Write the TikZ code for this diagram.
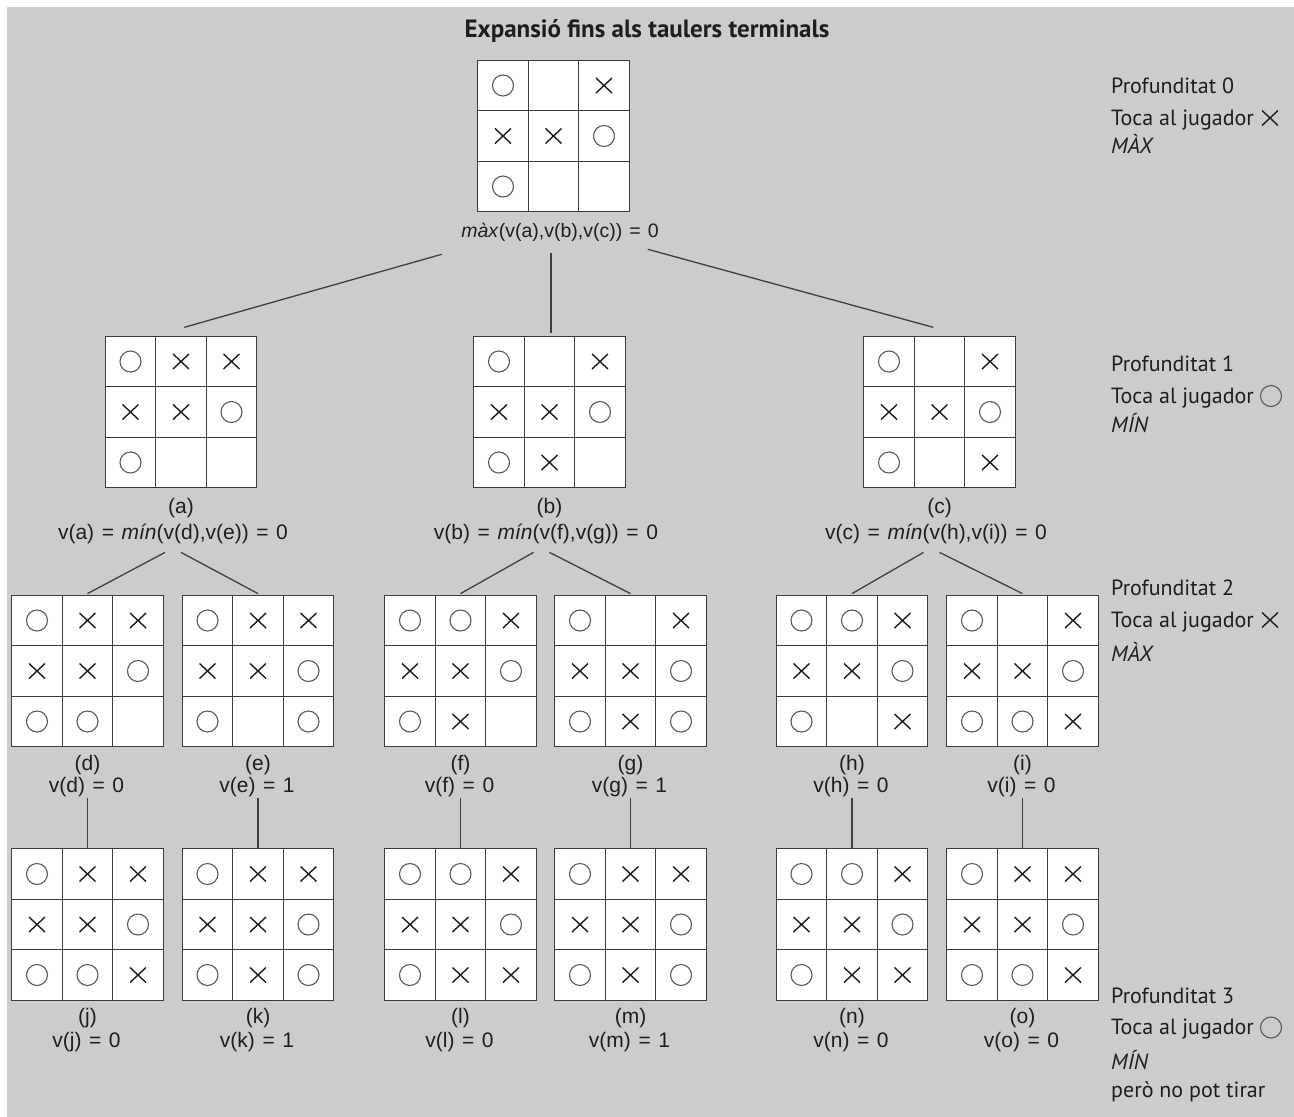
\documentclass[tikz,border=0pt]{standalone}
\usepackage{fontspec}
\setmainfont{Liberation Sans}[WordSpace=1.3]
\newfontfamily\labelfont{PT Sans}
\usetikzlibrary{calc}

\definecolor{panel}{HTML}{CCCCCC}
\definecolor{ink}{HTML}{1E1E1E}
\definecolor{gridink}{HTML}{3C3C3C}
\definecolor{ringink}{HTML}{5A5A5A}

\tikzset{
  board/.style={draw=gridink, line width=1.3pt, fill=white, minimum size=151.5pt, inner sep=0pt},
  cellline/.style={draw=gridink, line width=1.2pt},
  link/.style={draw=ink!85, line width=1.3pt},
  caption/.style={anchor=base, inner sep=0pt, text=ink, font=\fontsize{21}{25}\selectfont},
  sidetext/.style={anchor=base west, inner sep=0pt, text=ink, font=\labelfont\fontsize{22}{26}\selectfont},
  pics/crossmark/.style={code={\draw[ink, line width=1.4pt] (-8,-7.5) -- (8,7.5) (-8,7.5) -- (8,-7.5);}},
  pics/ringmark/.style={code={\draw[ringink, line width=1.1pt] (0,0) circle[radius=10.5pt];}},
}

% #1 name, #2 centre x, #3 centre y (downwards), #4 cells with a cross, #5 cells with a ring
\newcommand\tttboard[5]{%
  \node[board] (#1) at (#2,#3) {};
  \draw[cellline] (#2-25.25,#3-75.75) -- (#2-25.25,#3+75.75)
                  (#2+25.25,#3-75.75) -- (#2+25.25,#3+75.75)
                  (#2-75.75,#3-25.25) -- (#2+75.75,#3-25.25)
                  (#2-75.75,#3+25.25) -- (#2+75.75,#3+25.25);
  \foreach \c in {#4}{%
    \pgfmathtruncatemacro\col{mod(\c-1,3)}%
    \pgfmathtruncatemacro\row{(\c-1)/3}%
    \path (#2+\col*50.5-50.5,#3+\row*50.5-50.5) pic{crossmark};
  }
  \foreach \c in {#5}{%
    \pgfmathtruncatemacro\col{mod(\c-1,3)}%
    \pgfmathtruncatemacro\row{(\c-1)/3}%
    \path (#2+\col*50.5-50.5,#3+\row*50.5-50.5) pic{ringmark};
  }
}

\begin{document}
\begin{tikzpicture}[x=1pt,y=-1pt]
  % canvas and grey panel
  \fill[white] (0,0) rectangle (1294,1117);
  \fill[panel] (7,7) rectangle (1294,1117);
  \useasboundingbox (0,0) rectangle (1294,1117);

  \node[anchor=base, inner sep=0pt, text=ink, font=\labelfont\bfseries\fontsize{25}{30}\selectfont] (title) at (647,37) {Expansió fins als taulers terminals};

  % depth 0
  \tttboard{root}{553.5}{136}{3,4,5}{1,6,7}
  \node[caption, font=\fontsize{19.5}{23}\selectfont] (vroot) at (560,237) {\textit{màx}(v(a),v(b),v(c)) = 0};

  % depth 1
  \tttboard{a}{181}{412}{2,3,4,5}{1,6,7}
  \tttboard{b}{549.5}{412}{3,4,5,8}{1,6,7}
  \tttboard{c}{939.5}{412}{3,4,5,9}{1,6,7}
  \node[caption] (a-lab) at (181,513) {(a)};
  \node[caption] (b-lab) at (549.5,513) {(b)};
  \node[caption] (c-lab) at (939.5,513) {(c)};
  \node[caption] (va) at (173,539) {v(a) = \textit{mín}(v(d),v(e)) = 0};
  \node[caption] (vb) at (546,539) {v(b) = \textit{mín}(v(f),v(g)) = 0};
  \node[caption] (vc) at (936,539) {v(c) = \textit{mín}(v(h),v(i)) = 0};

  % depth 2
  \tttboard{d}{87.5}{671}{2,3,4,5}{1,6,7,8}
  \tttboard{e}{258}{671}{2,3,4,5}{1,6,7,9}
  \tttboard{f}{460.5}{671}{3,4,5,8}{1,2,6,7}
  \tttboard{g}{630.5}{671}{3,4,5,8}{1,6,7,9}
  \tttboard{h}{852}{671}{3,4,5,9}{1,2,6,7}
  \tttboard{i}{1022.5}{671}{3,4,5,9}{1,6,7,8}
  \foreach \n/\x/\v in {d/87.5/0,e/258/1,f/460.5/0,g/630.5/1,h/852/0,i/1022.5/0}{
    \node[caption] (\n-lab) at (\x,770) {(\n)};
    \node[caption] (v\n) at (\x-1,792) {v(\n) = \v};
  }

  % depth 3
  \tttboard{j}{87.5}{924.5}{2,3,4,5,9}{1,6,7,8}
  \tttboard{k}{258}{924.5}{2,3,4,5,8}{1,6,7,9}
  \tttboard{l}{460.5}{924.5}{3,4,5,8,9}{1,2,6,7}
  \tttboard{m}{630.5}{924.5}{2,3,4,5,8}{1,6,7,9}
  \tttboard{n}{852}{924.5}{3,4,5,8,9}{1,2,6,7}
  \tttboard{o}{1022.5}{924.5}{2,3,4,5,9}{1,6,7,8}
  \foreach \n/\x/\v in {j/87.5/0,k/258/1,l/460.5/0,m/630.5/1,n/852/0,o/1022.5/0}{
    \node[caption] (\n-lab) at (\x,1023) {(\n)};
    \node[caption] (v\n) at (\x-1,1047) {v(\n) = \v};
  }

  % connectors from the root
  \coordinate (r-a) at (441.7,254.3);
  \coordinate (r-b) at (551,253);
  \coordinate (r-c) at (647.7,249.3);
  \draw[link] (r-a) -- ([xshift=3.3pt,yshift=8.3pt]a.north);
  \draw[link] (r-b) -- ([xshift=1.5pt,yshift=3pt]b.north);
  \draw[link] (r-c) -- ([xshift=-6.2pt,yshift=8.3pt]c.north);

  % connectors from depth 1 to depth 2
  \foreach \p/\l/\r in {a/d/e,b/f/g,c/h/i}{
    \coordinate (\p-l) at ([xshift=-16pt,yshift=-64pt]\p.south);
    \coordinate (\p-r) at ([yshift=-64pt]\p.south);
    \draw[link] (\p-l) -- ([yshift=1pt]\l.north);
    \draw[link] (\p-r) -- ([yshift=1pt]\r.north);
  }

  % connectors from depth 2 to depth 3
  \foreach \p/\q in {d/j,e/k,f/l,g/m,h/n,i/o}{
    \coordinate (\p-down) at ([yshift=-51pt]\p.south);
    \draw[link] (\p-down) -- (\q.north);
  }

  % side notes on whose turn it is
  \node[sidetext] (d0) at (1111,93.5) {Profunditat 0};
  \node[sidetext] (t0) at (1111,125) {Toca al jugador};
  \node[sidetext] (m0) at (1111,153) {\itshape MÀX};
  \path (1270,118) pic{crossmark};

  \node[sidetext] (d1) at (1111,371) {Profunditat 1};
  \node[sidetext] (t1) at (1111,403) {Toca al jugador};
  \node[sidetext] (m1) at (1111,432) {\itshape MÍN};
  \path (1271,396) pic{ringmark};

  \node[sidetext] (d2) at (1111,595) {Profunditat 2};
  \node[sidetext] (t2) at (1111,627) {Toca al jugador};
  \node[sidetext] (m2) at (1111,661) {\itshape MÀX};
  \path (1270,620) pic{crossmark};

  \node[sidetext] (d3) at (1111,1003.5) {Profunditat 3};
  \node[sidetext] (t3) at (1111,1034.5) {Toca al jugador};
  \node[sidetext] (m3) at (1111,1069.5) {\itshape MÍN};
  \node[sidetext] (p3) at (1111,1097) {però no pot tirar};
  \path (1271,1027.5) pic{ringmark};
\end{tikzpicture}
\end{document}
